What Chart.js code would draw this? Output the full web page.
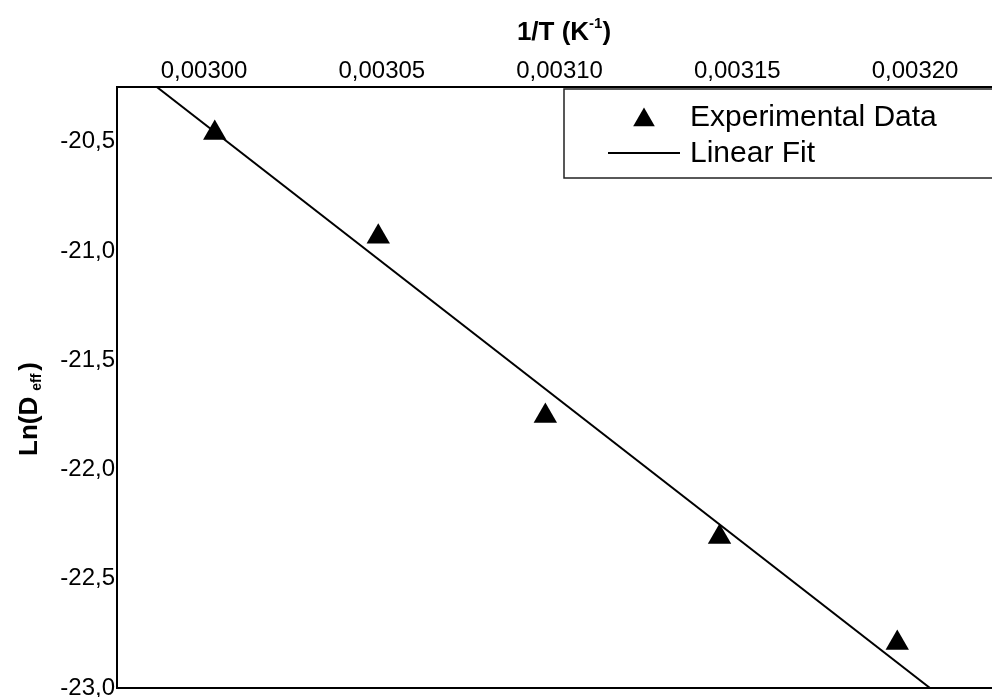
<!DOCTYPE html>
<html>
<head>
<meta charset="utf-8">
<title>Ln(Deff) vs 1/T</title>
<script src="https://cdn.jsdelivr.net/npm/chart.js"></script>
<style>
  html, body { margin: 0; padding: 0; background: #fff; overflow: hidden; }
  #arrhenius { display: block; }
</style>
</head>
<body>
<canvas id="arrhenius" width="1000" height="697"></canvas>
<script>
// Reciprocal temperature of each run (K^-1) and the measured ln(Deff)
const invT   = [0.003003, 0.003049, 0.003096, 0.003145, 0.003195];
const lnDeff = [-20.461, -20.935, -21.755, -22.309, -22.794];

// End points of the fitted straight line
const fitInvT   = [0.0029867, 0.0032042];
const fitLnDeff = [-20.25, -23.0];

// Axis ticks
const xTicks = [0.00300, 0.00305, 0.00310, 0.00315, 0.00320];
const yTicks = [-20.5, -21.0, -21.5, -22.0, -22.5, -23.0];

const seriesLabels = ['Experimental Data', 'Linear Fit'];

const FONT = "'Liberation Sans', Arial, Helvetica, sans-serif";

// Keep the plot area exactly where the axis sizes put it (no label overhang padding)
const NO_PAD = () => ({ left: 0, top: 0, right: 0, bottom: 0 });
function fixScale(s, size) {
  if (s.isHorizontal()) s.height = size; else s.width = size;
  s.paddingLeft = s.paddingRight = s.paddingTop = s.paddingBottom = 0;
  s.getPadding = NO_PAD;
}

// Frame bottom line, axis titles with sub/superscripts, and the boxed legend
const decorations = {
  id: 'decorations',
  afterDraw(chart) {
    const { ctx, chartArea: a } = chart;
    ctx.save();
    ctx.fillStyle = '#000';
    ctx.strokeStyle = '#000';

    // bottom edge of the plot frame
    ctx.lineWidth = 2;
    ctx.beginPath();
    ctx.moveTo(a.left - 1, a.bottom);
    ctx.lineTo(a.right, a.bottom);
    ctx.stroke();

    // x-axis title: 1/T (K^-1)
    ctx.textBaseline = 'alphabetic';
    ctx.textAlign = 'left';
    const big = 'bold 26px ' + FONT, sup = 'bold 15px ' + FONT;
    ctx.font = big; const w1 = ctx.measureText('1/T (K').width;
    ctx.font = sup; const w2 = ctx.measureText('-1').width;
    ctx.font = big; const w3 = ctx.measureText(')').width;
    const x0 = 564 - (w1 + w2 + w3) / 2;
    const base = 40;
    ctx.font = big; ctx.fillText('1/T (K', x0, base);
    ctx.font = sup; ctx.fillText('-1', x0 + w1, base - 12);
    ctx.font = big; ctx.fillText(')', x0 + w1 + w2, base);

    // y-axis title: Ln(D_eff)
    ctx.save();
    ctx.translate(37, 456);
    ctx.rotate(-Math.PI / 2);
    const sub = 'bold 14px ' + FONT;
    ctx.font = big; const t1 = ctx.measureText('Ln(D').width;
    ctx.font = sub; const t2 = ctx.measureText('eff').width;
    ctx.font = big; ctx.fillText('Ln(D', 0, 0);
    ctx.font = sub; ctx.fillText('eff', t1 + 6, 4);
    ctx.font = big; ctx.fillText(')', t1 + 6 + t2 + 3, 0);
    ctx.restore();

    // legend box
    ctx.lineWidth = 1.5;
    ctx.strokeStyle = '#222';
    ctx.strokeRect(564, 89, 500, 89);
    ctx.fillStyle = '#000';
    Chart.helpers.drawPoint(ctx, { pointStyle: 'triangle', radius: 12.5, rotation: 0, borderWidth: 0 }, 644, 120);
    ctx.strokeStyle = '#000';
    ctx.lineWidth = 2;
    ctx.beginPath();
    ctx.moveTo(608, 153);
    ctx.lineTo(680, 153);
    ctx.stroke();
    ctx.font = '30px ' + FONT;
    ctx.textBaseline = 'alphabetic';
    ctx.fillText(seriesLabels[0], 690, 126);
    ctx.fillText(seriesLabels[1], 690, 162);

    ctx.restore();
  }
};

new Chart(document.getElementById('arrhenius'), {
  type: 'scatter',
  data: {
    datasets: [
      {
        label: seriesLabels[0],
        data: invT.map((x, i) => ({ x, y: lnDeff[i] })),
        pointStyle: 'triangle',
        pointRadius: 13.5,
        pointHoverRadius: 13.5,
        backgroundColor: '#000',
        borderColor: '#000',
        borderWidth: 0,
        showLine: false
      },
      {
        type: 'line',
        label: seriesLabels[1],
        data: fitInvT.map((x, i) => ({ x, y: fitLnDeff[i] })),
        borderColor: '#000',
        borderWidth: 2,
        pointRadius: 0,
        fill: false,
        tension: 0
      }
    ]
  },
  options: {
    responsive: false,
    animation: false,
    events: [],
    devicePixelRatio: 1,
    layout: { autoPadding: false, padding: { top: 0, left: 0, right: 0, bottom: 9 } },
    plugins: { legend: { display: false }, tooltip: { enabled: false } },
    scales: {
      x: {
        type: 'linear',
        position: 'top',
        min: 0.0029755,
        max: 0.0032239,
        grid: { display: false, drawTicks: false },
        border: { display: true, color: '#000', width: 2 },
        ticks: {
          color: '#000',
          padding: 1,
          maxRotation: 0,
          autoSkip: false,
          font: { family: FONT, size: 24 },
          callback: v => v.toFixed(5).replace('.', ',')
        },
        afterBuildTicks: s => { s.ticks = xTicks.map(v => ({ value: v })); },
        afterFit: s => fixScale(s, 87)
      },
      y: {
        type: 'linear',
        position: 'left',
        min: -23.0,
        max: -20.25,
        grid: { display: false, drawTicks: false },
        border: { display: true, color: '#000', width: 2 },
        ticks: {
          color: '#000',
          padding: 2,
          autoSkip: false,
          font: { family: FONT, size: 24 },
          callback: v => v.toFixed(1).replace('.', ',')
        },
        afterBuildTicks: s => { s.ticks = yTicks.map(v => ({ value: v })); },
        afterFit: s => fixScale(s, 117)
      }
    }
  },
  plugins: [decorations]
});
</script>
</body>
</html>
